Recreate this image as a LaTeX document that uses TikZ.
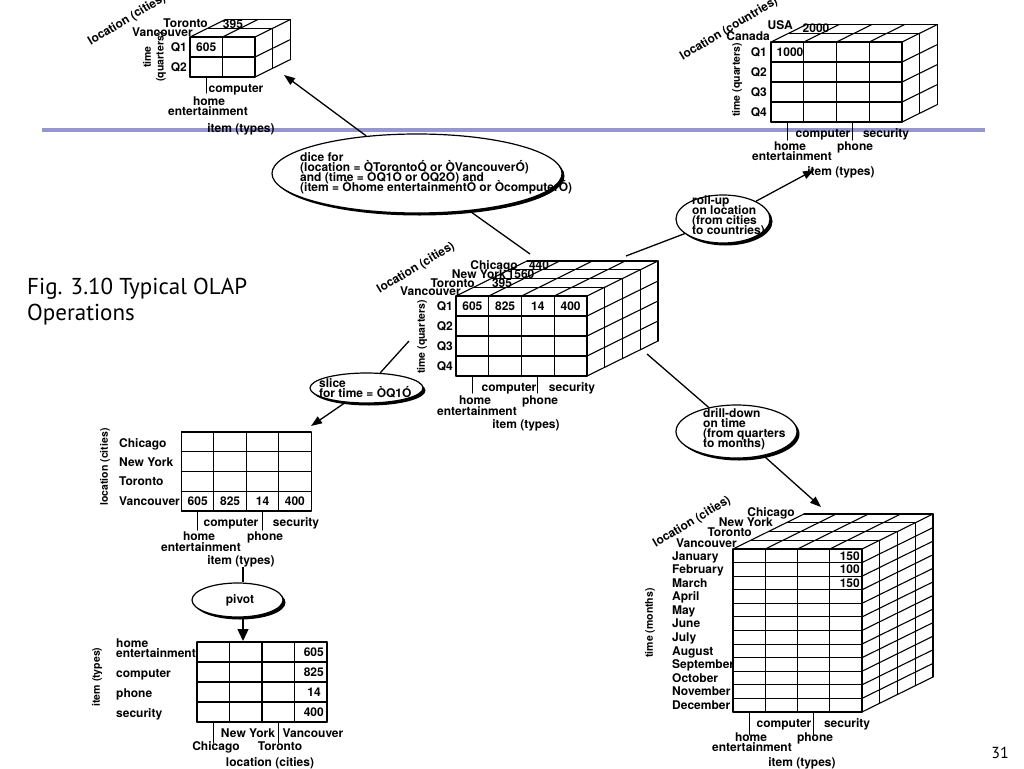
\documentclass[tikz,border=0pt]{standalone}
\usepackage{fontspec}
\setmainfont{TeX Gyre Heros}
\newfontfamily\figfont{PT Sans}
\usetikzlibrary{arrows.meta,shapes.geometric,shadows}
\definecolor{bandblue}{RGB}{150,150,204}
\newcommand\labfont{\fontsize{12}{12}\selectfont\bfseries}
\newcommand\vfont{\fontsize{10.5}{10.5}\selectfont\bfseries}
\newcommand\elfont{\fontsize{12}{10}\selectfont\bfseries}
% #1 x0 #2 y0 #3 ncols #4 colw #5 nrows #6 rowh #7 ndepth #8 dx #9 dy
\newcommand\olapcube[9]{%
  \foreach \i in {0,...,#3} \draw[cubeline] ({#1+\i*#4},{#2}) -- ++(0,{#5*#6});
  \foreach \j in {0,...,#5} \draw[cubeline] ({#1},{#2+\j*#6}) -- ++({#3*#4},0);
  \ifnum#7>0
    \foreach \i in {0,...,#3} \draw[cubeline] ({#1+\i*#4},{#2}) -- ++({#7*(#8)},{#7*(#9)});
    \foreach \k in {1,...,#7} \draw[cubeline] ({#1+\k*(#8)},{#2+\k*(#9)}) -- ++({#3*#4},0);
    \foreach \k in {1,...,#7} \draw[cubeline] ({#1+#3*#4+\k*(#8)},{#2+\k*(#9)}) -- ++(0,{#5*#6});
    \foreach \j in {1,...,#5} \draw[cubeline] ({#1+#3*#4},{#2+\j*#6}) -- ++({#7*(#8)},{#7*(#9)});
  \fi
}
\begin{document}
\begin{tikzpicture}[x=1pt,y=-1pt,
  cubeline/.style={line width=1.1pt, line cap=round},
  lab/.style={font=\labfont, inner sep=0pt, text height=8.5pt, text depth=0pt},
  vlab/.style={font=\vfont, inner sep=0pt, rotate=90},
  dlab/.style={font=\labfont, inner sep=0pt, rotate=31},
  oval/.style={ellipse, draw, line width=1.2pt, fill=white, inner sep=0pt,
    drop shadow={shadow xshift=2.5pt, shadow yshift=-2.5pt, fill=black, opacity=1}},
  eltext/.style={font=\elfont, inner sep=0pt, anchor=west, text height=8.5pt, text depth=0pt},
  conn/.style={line width=1.3pt},
  arr/.style={conn, -{Triangle[length=11pt,width=8pt]}},
  bigarr/.style={conn, -{Triangle[length=12pt,width=11pt]}},
  figtxt/.style={font=\figfont\fontsize{23}{23}\selectfont, inner sep=0pt, anchor=base west}
]
\fill[white] (0,0) rectangle (1024,768);
\useasboundingbox (0,0) rectangle (1024,768);

% blue band
\draw[bandblue, line width=4.5pt] (42,130) -- (985,130);

% figure caption and page number
\node[figtxt] (cap1) at (27,294) {Fig. 3.10 Typical OLAP};
\node[figtxt] (cap2) at (27,320) {Operations};
\node[font=\figfont\fontsize{16}{16}\selectfont, inner sep=0pt, anchor=base east] (pg) at (1009,758) {31};

% ---------------- cubes and tables ----------------
\olapcube{456}{296}{4}{32.75}{4}{20}{4}{17.75}{-8.75}   % centre
\olapcube{190}{37}{2}{32.5}{2}{20}{2}{17.75}{-8.75}     % dice result
\olapcube{771}{42}{4}{32.75}{4}{20}{2}{17.75}{-8.75}    % roll-up result
\olapcube{733}{549}{4}{32.25}{12}{13.58}{4}{17.75}{-8.75} % drill-down result
\olapcube{181.5}{432}{4}{32.4}{4}{19.75}{0}{0}{0}       % slice result
\olapcube{197}{642}{4}{32.5}{4}{20}{0}{0}{0}            % pivot result

% ---- centre cube labels
\node[dlab] (c-loc) at (416,268) {location (cities)};
\node[lab, anchor=east] (c-chi) at (518,265) {Chicago};
\node[lab] (c-440) at (539,265) {440};
\node[lab, anchor=east] (c-ny) at (506,274) {New York};
\node[lab] (c-1560) at (521,274) {1560};
\node[lab, anchor=east] (c-tor) at (475,283) {Toronto};
\node[lab] (c-395) at (502,283) {395};
\node[lab, anchor=east] (c-van) at (461,291) {Vancouver};
\foreach \q [count=\k from 0] in {Q1,Q2,Q3,Q4}
  \node[lab, anchor=east] (c-\q) at (453,{306+20*\k}) {\q};
\node[vlab] (c-time) at (422,337) {time (quarters)};
\node[lab] (c-v1) at (472.4,306) {605};
\node[lab] (c-v2) at (505.1,306) {825};
\node[lab] (c-v3) at (537.9,306) {14};
\node[lab] (c-v4) at (570.6,306) {400};
\draw[cubeline] (472.4,376) -- (472.4,393);
\draw[cubeline] (537.9,376) -- (537.9,393);
\node[lab] (c-comp) at (509,387) {computer};
\node[lab] (c-sec) at (572,387) {security};
\node[lab] (c-home) at (475,400) {home};
\node[lab] (c-phone) at (540,400) {phone};
\node[lab] (c-ent) at (477,411) {entertainment};
\node[lab] (c-item) at (526,424) {item (types)};

% ---- dice result labels
\node[dlab] (d-loc) at (127,20) {location (cities)};
\node[lab, anchor=east] (d-tor) at (208,23) {Toronto};
\node[lab] (d-395) at (233,24) {395};
\node[lab, anchor=east] (d-van) at (193,32) {Vancouver};
\node[lab, anchor=east] (d-Q1) at (187,47) {Q1};
\node[lab, anchor=east] (d-Q2) at (187,67) {Q2};
\node[lab] (d-v1) at (206.25,47) {605};
\node[vlab] (d-time1) at (147,57) {time};
\node[vlab] (d-time2) at (161,57) {(quarters)};
\draw[cubeline] (206.25,77) -- (206.25,93);
\node[lab] (d-comp) at (236,88) {computer};
\node[lab] (d-home) at (209,101) {home};
\node[lab] (d-ent) at (208,111) {entertainment};
\node[lab] (d-item) at (241,128) {item (types)};

% ---- roll-up result labels
\node[dlab] (r-loc) at (729,29) {location (countries)};
\node[lab, anchor=east] (r-usa) at (793,25) {USA};
\node[lab] (r-2000) at (816,28) {2000};
\node[lab, anchor=east] (r-can) at (770,36) {Canada};
\foreach \q [count=\k from 0] in {Q1,Q2,Q3,Q4}
  \node[lab, anchor=east] (r-\q) at (767,{52+20*\k}) {\q};
\node[lab] (r-v1) at (790,52) {1000};
\node[vlab] (r-time) at (737,80) {time (quarters)};
\draw[cubeline] (787.4,122) -- (787.4,140);
\draw[cubeline] (852.9,122) -- (852.9,140);
\node[lab] (r-comp) at (823,133) {computer};
\node[lab] (r-sec) at (886,133) {security};
\node[lab] (r-home) at (790,146) {home};
\node[lab] (r-phone) at (855,146) {phone};
\node[lab] (r-ent) at (792,156) {entertainment};
\node[lab] (r-item) at (841,171) {item (types)};

% ---- drill-down result labels
\node[dlab] (m-loc) at (692,522) {location (cities)};
\node[lab, anchor=east] (m-chi) at (795,512) {Chicago};
\node[lab, anchor=east] (m-ny) at (773,522) {New York};
\node[lab, anchor=east] (m-tor) at (752,532) {Toronto};
\node[lab, anchor=east] (m-van) at (737,543) {Vancouver};
\foreach \m [count=\k from 0] in {January,February,March,April,May,June,July,August,September,October,November,December}
  \node[lab, anchor=west] (m-\k) at (672,{555.8+13.58*\k}) {\m};
\node[lab, anchor=east] (m-v1) at (860,555.8) {150};
\node[lab, anchor=east] (m-v2) at (860,569.4) {100};
\node[lab, anchor=east] (m-v3) at (860,583) {150};
\node[vlab] (m-time) at (650,623) {time (months)};
\draw[cubeline] (749.1,712) -- (749.1,735);
\draw[cubeline] (813.6,712) -- (813.6,735);
\node[lab] (m-comp) at (784,723) {computer};
\node[lab] (m-sec) at (847,723) {security};
\node[lab] (m-home) at (751,737) {home};
\node[lab] (m-phone) at (815,737) {phone};
\node[lab] (m-ent) at (752,747) {entertainment};
\node[lab] (m-item) at (802,762) {item (types)};

% ---- slice result labels
\foreach \c/\yy [count=\k] in {Chicago/443,New York/462,Toronto/481,Vancouver/501}
  \node[lab, anchor=west] (s-r\k) at (119,\yy) {\c};
\node[vlab] (s-loc) at (105,467) {location (cities)};
\node[lab] (s-v1) at (197.7,501) {605};
\node[lab] (s-v2) at (230.1,501) {825};
\node[lab] (s-v3) at (262.5,501) {14};
\node[lab] (s-v4) at (294.9,501) {400};
\draw[cubeline] (197.7,511) -- (197.7,530);
\draw[cubeline] (262.5,511) -- (262.5,530);
\node[lab] (s-comp) at (231,522) {computer};
\node[lab] (s-sec) at (296,522) {security};
\node[lab] (s-home) at (199,536) {home};
\node[lab] (s-phone) at (265,536) {phone};
\node[lab] (s-ent) at (201,547) {entertainment};
\node[lab] (s-item) at (241,560) {item (types)};

% ---- pivot result labels
\foreach \c/\yy [count=\k] in {home/643,entertainment/653,computer/673,phone/693,security/713}
  \node[lab, anchor=west] (p-r\k) at (116,\yy) {\c};
\node[vlab] (p-item) at (97,677) {item (types)};
\node[lab, anchor=east] (p-v1) at (324,652) {605};
\node[lab, anchor=east] (p-v2) at (324,672) {825};
\node[lab, anchor=east] (p-v3) at (321,692) {14};
\node[lab, anchor=east] (p-v4) at (324,712) {400};
\draw[cubeline] (213.25,722) -- (213.25,743);
\draw[cubeline] (278.25,722) -- (278.25,743);
\node[lab] (p-ny) at (248,733) {New York};
\node[lab] (p-van) at (313,733) {Vancouver};
\node[lab] (p-chi) at (216,746) {Chicago};
\node[lab] (p-tor) at (280,746) {Toronto};
\node[lab] (p-loc) at (270,762) {location (cities)};

% ---------------- operation ellipses ----------------
\node[oval, minimum width=290pt, minimum height=79pt] (dice) at (417,173.5) {};
\node[oval, minimum width=94pt, minimum height=48pt] (roll) at (723,219) {};
\node[oval, minimum width=113pt, minimum height=30pt] (slice) at (366.5,388) {};
\node[oval, minimum width=121pt, minimum height=53pt] (drill) at (736.5,431.5) {};
\node[oval, minimum width=91pt, minimum height=34pt] (pivot) at (237.5,600) {};

\node[eltext] (dice-1) at (300,157) {dice for};
\node[eltext] (dice-2) at (300,167) {(location = ÒTorontoÓ or ÒVancouverÓ)};
\node[eltext] (dice-3) at (300,177) {and (time = ÒQ1Ó or ÒQ2Ó) and};
\node[eltext] (dice-4) at (300,187) {(item = Òhome entertainmentÓ or ÒcomputerÓ)};
\node[eltext] (roll-1) at (692,200.5) {roll-up};
\node[eltext] (roll-2) at (692,210.5) {on location};
\node[eltext] (roll-3) at (692,220.5) {(from cities};
\node[eltext] (roll-4) at (692,230.5) {to countries)};
\node[eltext] (slice-1) at (319,383) {slice};
\node[eltext] (slice-2) at (319,393) {for time = ÒQ1Ó};
\node[eltext] (drill-1) at (703,413.5) {drill-down};
\node[eltext] (drill-2) at (703,423.5) {on time};
\node[eltext] (drill-3) at (703,433.5) {(from quarters};
\node[eltext] (drill-4) at (703,443.5) {to months)};
\node[eltext, anchor=center] (pivot-1) at (240,599) {pivot};

% ---------------- connectors ----------------
\coordinate (tl-tip) at (284,75);
\coordinate (c-d) at (530,254);
\coordinate (c-r) at (626,256);
\coordinate (tr-tip) at (814,170);
\coordinate (c-s) at (409,341);
\coordinate (s-tip) at (311,426);
\coordinate (c-m) at (647,354);
\coordinate (m-tip) at (821,507);
\coordinate (s-p) at (243,567);
\coordinate (p-tip) at (243,641);

\draw[arr] (dice) -- (tl-tip);
\draw[conn] (c-d) -- (dice);
\draw[conn] (c-r) -- (roll);
\draw[arr] (roll) -- (tr-tip);
\draw[conn] (c-s) -- (slice);
\draw[arr] (slice) -- (s-tip);
\draw[conn] (c-m) -- (drill);
\draw[arr] (drill) -- (m-tip);
\draw[conn] (s-p) -- (s-p |- pivot.north);
\draw[bigarr] (s-p |- pivot.south) -- (p-tip);
\end{tikzpicture}
\end{document}
